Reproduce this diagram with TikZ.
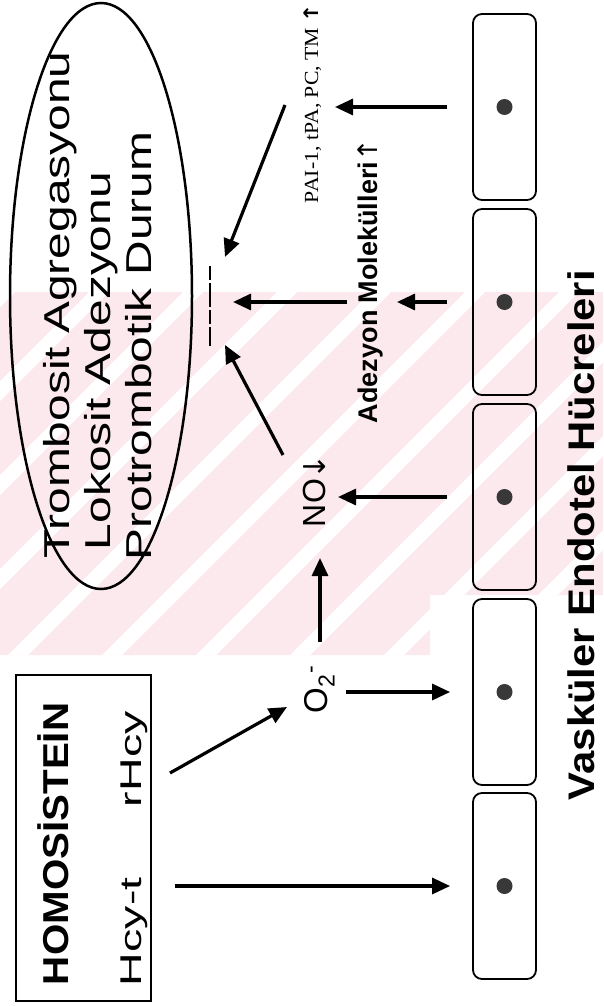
\documentclass[tikz,border=0pt]{standalone}
\usepackage{fontspec}
\usepackage{graphicx}
\setmainfont{Liberation Sans}
\newfontfamily\serifface{Liberation Serif}
\newfontfamily\arrowface{DejaVu Sans}
\usetikzlibrary{arrows.meta,shapes.geometric}
\definecolor{wmpink}{RGB}{252,233,238}
\newcommand{\fsz}[1]{\fontsize{#1}{#1}\selectfont}
\newcommand{\stretchx}[2]{\scalebox{#1}[1]{#2}}
\begin{document}
\begin{tikzpicture}[x=1pt,y=-1pt,
  txt/.style={inner sep=0pt, outer sep=0pt, rotate=90, anchor=base west},
  arr/.style={line width=3.2pt, -{Triangle[length=18pt,width=16pt]}},
  cellbox/.style={draw, line width=1.8pt, rounded corners=9pt, minimum width=63pt, minimum height=186pt, inner sep=0pt},
  nucleus/.style={circle, fill=black!78, minimum size=16pt, inner sep=0pt}]
\useasboundingbox (0,0) rectangle (603,1006);
\fill[white] (0,0) rectangle (603,1006);
% watermark
\begin{scope}
\clip (0,292) -- (603,292) -- (603,595) -- (430,595) -- (430,655) -- (0,655) -- cycle;
\fill[wmpink] (0,0) rectangle (603,1006);
\foreach \k in {0,...,16} {
  \fill[white] ({15+94*\k-10},0) -- ({15+94*\k+10},0) -- ({15+94*\k+10-1006},1006) -- ({15+94*\k-10-1006},1006) -- cycle;
}
\end{scope}
% ellipse and texts
\node[draw, ellipse, line width=2.5pt, minimum width=182pt, minimum height=586pt, inner sep=0pt] (state) at (101,296) {};
\node[txt, font=\fsz{36}] (l1) at (69,558) {\stretchx{1.33}{Trombosit Agregasyonu}};
\node[txt, font=\fsz{36}] (l2) at (110,550) {\stretchx{1.33}{Lokosit Adezyonu}};
\node[txt, font=\fsz{36}] (l3) at (151,560) {\stretchx{1.33}{Protrombotik Durum}};
% homosistein box
\node[draw, line width=2.5pt, minimum width=135pt, minimum height=326pt, inner sep=0pt] (hbox) at (83.5,838) {};
\node[txt, font=\bfseries\fsz{36}] (homo) at (68,985) {\stretchx{1.12}{HOMOSİSTEİN}};
\node[txt, font=\fsz{30}] (hcyt) at (141,986) {\stretchx{1.55}{Hcy-t}};
\node[txt, font=\fsz{30}] (rhcy) at (141,807) {\stretchx{1.55}{rHcy}};
% middle labels
\node[txt, font=\fsz{33}] (o2) at (327,713) {O\textsubscript{2}\textsuperscript{-}};
\node[txt, font=\fsz{32}] (no) at (325,527) {NO{\arrowface\fsz{30}↓}};
\node[txt, font=\bfseries\fsz{27}] (adez) at (377,423) {Adezyon Molekülleri{\arrowface\mdseries ↑}};
\node[txt, font=\serifface\fsz{20}] (pai) at (318,203) {\stretchx{1.09}{PAI-1, tPA, PC, TM {\arrowface\bfseries ↑}}};
\node[txt, font=\bfseries\fsz{37}] (vask) at (594,800) {\stretchx{1.13}{Vasküler Endotel Hücreleri}};
% cells
\foreach \i/\cy in {1/886,2/692,3/497,4/302,5/107} {
  \node[cellbox] (c\i) at (504.5,\cy) {};
  \node[nucleus] (n\i) at (c\i.center) {};
}
% free ends
\coordinate (a1s) at (175,886);
\coordinate (a2s) at (170,773);
\coordinate (a2e) at (287,707);
\coordinate (a3s) at (346,692);
\coordinate (a4s) at (320,642);
\coordinate (a4e) at (320,558);
\coordinate (a5e) at (338,497);
\coordinate (a6s) at (283,455);
\coordinate (a6e) at (225,345);
\coordinate (a7e) at (397,302);
\coordinate (a8s) at (347,302);
\coordinate (a8e) at (233,302);
\coordinate (a9e) at (335,107);
\coordinate (a10s) at (285,105);
\coordinate (a10e) at (225,257);
\coordinate (bartop) at (210,266);
\coordinate (barbot) at (210,346);
% connectors
\draw[arr] (a1s) -- ([xshift=-22pt]c1.west);
\draw[arr] (a2s) -- (a2e);
\draw[arr] (a3s) -- ([xshift=-22pt]c2.west);
\draw[arr] (a4s) -- (a4e);
\draw[arr] ([xshift=-25pt]c3.west) -- (a5e);
\draw[arr] (a6s) -- (a6e);
\draw[arr] ([xshift=-25pt]c4.west) -- (a7e);
\draw[arr] (a8s) -- (a8e);
\draw[arr] ([xshift=-25pt]c5.west) -- (a9e);
\draw[arr] (a10s) -- (a10e);
\draw[line width=1.2pt, dash pattern=on 14pt off 3pt on 24pt off 3pt] (bartop) -- (barbot);
\end{tikzpicture}
\end{document}
